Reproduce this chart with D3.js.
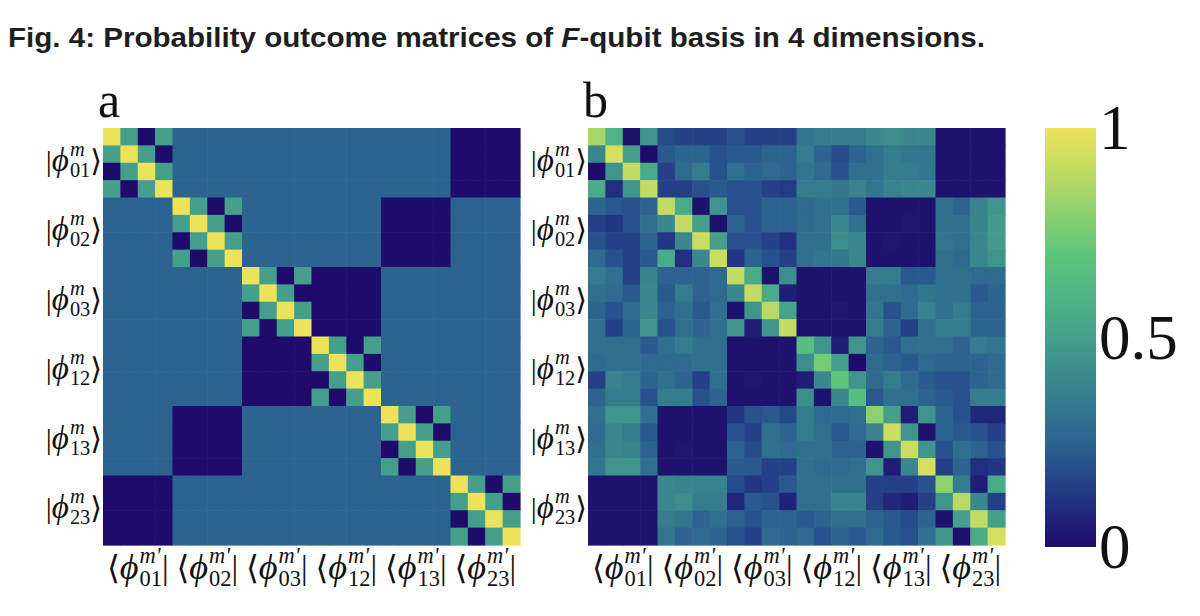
<!DOCTYPE html>
<html>
<head>
<meta charset="utf-8">
<script src="https://cdn.jsdelivr.net/npm/d3@7"></script>
<style>
  body { margin: 0; background: #fff; }
  text { font-family: "Liberation Serif", "DejaVu Serif", serif; fill: #111; }
</style>
</head>
<body>
<div id="fig"></div>
<script>
// basis labels (blocks of 4 rows / columns each)
var basisNames = ["01", "02", "03", "12", "13", "23"];
var panelNames = ["a", "b"];
var colorTicks = [0, 0.5, 1];
// colour stops as they look on the reference colour bar (viridis-like)
var colorStops = [0, 0.1, 0.2, 0.25, 0.3, 0.4, 0.5, 0.6, 0.7, 0.8, 0.9, 1];
var colorValues = ["#1f0b6b", "#212f80", "#27528d", "#2c648f", "#30708f", "#3a888d",
                   "#44a08b", "#4fb585", "#5ec57a", "#8ed16f", "#c2db62", "#ece35a"];

// a: ideal probability outcome matrix
var idealMatrix = [
  [1,.5,0,.5,.25,.25,.25,.25,.25,.25,.25,.25,.25,.25,.25,.25,.25,.25,.25,.25,0,0,0,0],
  [.5,1,.5,0,.25,.25,.25,.25,.25,.25,.25,.25,.25,.25,.25,.25,.25,.25,.25,.25,0,0,0,0],
  [0,.5,1,.5,.25,.25,.25,.25,.25,.25,.25,.25,.25,.25,.25,.25,.25,.25,.25,.25,0,0,0,0],
  [.5,0,.5,1,.25,.25,.25,.25,.25,.25,.25,.25,.25,.25,.25,.25,.25,.25,.25,.25,0,0,0,0],
  [.25,.25,.25,.25,1,.5,0,.5,.25,.25,.25,.25,.25,.25,.25,.25,0,0,0,0,.25,.25,.25,.25],
  [.25,.25,.25,.25,.5,1,.5,0,.25,.25,.25,.25,.25,.25,.25,.25,0,0,0,0,.25,.25,.25,.25],
  [.25,.25,.25,.25,0,.5,1,.5,.25,.25,.25,.25,.25,.25,.25,.25,0,0,0,0,.25,.25,.25,.25],
  [.25,.25,.25,.25,.5,0,.5,1,.25,.25,.25,.25,.25,.25,.25,.25,0,0,0,0,.25,.25,.25,.25],
  [.25,.25,.25,.25,.25,.25,.25,.25,1,.5,0,.5,0,0,0,0,.25,.25,.25,.25,.25,.25,.25,.25],
  [.25,.25,.25,.25,.25,.25,.25,.25,.5,1,.5,0,0,0,0,0,.25,.25,.25,.25,.25,.25,.25,.25],
  [.25,.25,.25,.25,.25,.25,.25,.25,0,.5,1,.5,0,0,0,0,.25,.25,.25,.25,.25,.25,.25,.25],
  [.25,.25,.25,.25,.25,.25,.25,.25,.5,0,.5,1,0,0,0,0,.25,.25,.25,.25,.25,.25,.25,.25],
  [.25,.25,.25,.25,.25,.25,.25,.25,0,0,0,0,1,.5,0,.5,.25,.25,.25,.25,.25,.25,.25,.25],
  [.25,.25,.25,.25,.25,.25,.25,.25,0,0,0,0,.5,1,.5,0,.25,.25,.25,.25,.25,.25,.25,.25],
  [.25,.25,.25,.25,.25,.25,.25,.25,0,0,0,0,0,.5,1,.5,.25,.25,.25,.25,.25,.25,.25,.25],
  [.25,.25,.25,.25,.25,.25,.25,.25,0,0,0,0,.5,0,.5,1,.25,.25,.25,.25,.25,.25,.25,.25],
  [.25,.25,.25,.25,0,0,0,0,.25,.25,.25,.25,.25,.25,.25,.25,1,.5,0,.5,.25,.25,.25,.25],
  [.25,.25,.25,.25,0,0,0,0,.25,.25,.25,.25,.25,.25,.25,.25,.5,1,.5,0,.25,.25,.25,.25],
  [.25,.25,.25,.25,0,0,0,0,.25,.25,.25,.25,.25,.25,.25,.25,0,.5,1,.5,.25,.25,.25,.25],
  [.25,.25,.25,.25,0,0,0,0,.25,.25,.25,.25,.25,.25,.25,.25,.5,0,.5,1,.25,.25,.25,.25],
  [0,0,0,0,.25,.25,.25,.25,.25,.25,.25,.25,.25,.25,.25,.25,.25,.25,.25,.25,1,.5,0,.5],
  [0,0,0,0,.25,.25,.25,.25,.25,.25,.25,.25,.25,.25,.25,.25,.25,.25,.25,.25,.5,1,.5,0],
  [0,0,0,0,.25,.25,.25,.25,.25,.25,.25,.25,.25,.25,.25,.25,.25,.25,.25,.25,0,.5,1,.5],
  [0,0,0,0,.25,.25,.25,.25,.25,.25,.25,.25,.25,.25,.25,.25,.25,.25,.25,.25,.5,0,.5,1]
];

var measuredMatrix = [
  [.85,.6,.02,.45,.18,.15,.15,.15,.2,.15,.15,.15,.33,.35,.36,.35,.4,.42,.4,.4,.02,.02,.02,.02],
  [.4,.95,.5,0,.22,.25,.25,.2,.22,.22,.25,.25,.35,.25,.18,.25,.3,.35,.33,.32,.02,.02,.02,.02],
  [0,.45,.9,.55,.15,.28,.35,.2,.3,.25,.28,.25,.33,.28,.2,.3,.3,.35,.35,.33,.02,.02,.02,.02],
  [.55,.1,.45,.9,.15,.15,.2,.22,.2,.2,.15,.13,.35,.35,.33,.38,.32,.38,.4,.4,.02,.02,.02,.02],
  [.25,.22,.2,.25,.9,.55,.02,.45,.2,.2,.25,.25,.28,.3,.3,.22,.02,.02,.02,.02,.3,.25,.38,.45],
  [.15,.12,.2,.3,.4,.9,.5,.02,.25,.2,.25,.25,.28,.3,.4,.3,.02,.02,.03,.02,.3,.3,.38,.48],
  [.2,.15,.15,.25,.12,.4,.92,.5,.2,.2,.15,.1,.3,.3,.42,.4,.02,.03,.02,.02,.32,.3,.4,.48],
  [.28,.2,.15,.22,.55,.1,.4,.92,.12,.25,.2,.15,.3,.32,.33,.4,.02,.02,.02,.02,.3,.28,.4,.45],
  [.35,.3,.15,.38,.25,.25,.25,.28,.9,.55,.02,.42,.02,.02,.02,.02,.35,.35,.22,.22,.3,.3,.28,.28],
  [.3,.28,.22,.4,.22,.35,.25,.28,.4,.9,.55,.05,.02,.02,.02,.02,.3,.3,.28,.32,.3,.3,.22,.25],
  [.25,.2,.28,.4,.25,.3,.22,.3,.02,.45,.88,.52,.02,.02,.03,.02,.32,.2,.28,.38,.3,.35,.25,.25],
  [.3,.15,.25,.45,.2,.3,.25,.3,.45,.05,.45,.9,.02,.02,.02,.02,.35,.25,.15,.3,.35,.35,.25,.25],
  [.3,.3,.3,.22,.3,.35,.3,.3,.02,.02,.02,.02,.65,.45,.05,.45,.25,.22,.3,.3,.3,.25,.35,.32],
  [.28,.3,.3,.28,.28,.28,.3,.3,.02,.02,.02,.02,.42,.75,.5,0,.28,.25,.22,.28,.25,.25,.25,.28],
  [.15,.38,.35,.25,.3,.25,.15,.3,.02,.03,.02,.02,.05,.4,.7,.45,.28,.35,.28,.22,.2,.2,.25,.28],
  [.25,.35,.35,.2,.35,.35,.2,.25,.02,.02,.02,.02,.42,.02,.4,.65,.22,.3,.3,.25,.22,.2,.35,.35],
  [.3,.45,.45,.3,.02,.02,.02,.02,.12,.2,.22,.17,.35,.28,.28,.3,.8,.5,.05,.45,.25,.2,.08,.08],
  [.28,.4,.35,.22,.02,.02,.02,.02,.2,.15,.3,.25,.35,.3,.22,.28,.38,.92,.45,.02,.25,.22,.2,.15],
  [.3,.4,.38,.25,.02,.03,.02,.02,.25,.18,.3,.28,.3,.3,.25,.25,.02,.45,.92,.45,.2,.3,.25,.2],
  [.32,.45,.45,.3,.02,.02,.02,.02,.22,.22,.15,.15,.3,.28,.28,.3,.45,.05,.4,.95,.15,.25,.1,.12],
  [.02,.02,.02,.02,.4,.38,.38,.38,.18,.12,.15,.22,.3,.3,.3,.3,.15,.15,.15,.2,.8,.35,.05,.55],
  [.02,.02,.02,.02,.4,.42,.35,.35,.08,.22,.2,.06,.3,.3,.38,.38,.15,.08,.05,.15,.45,.88,.4,.15],
  [.02,.02,.02,.02,.35,.32,.25,.3,.25,.2,.25,.25,.22,.25,.3,.3,.25,.22,.18,.25,.02,.5,.9,.5],
  [.02,.02,.02,.02,.32,.25,.28,.25,.2,.15,.28,.25,.28,.2,.25,.22,.28,.22,.2,.3,.45,.02,.55,.95]
];

var width = 1200, height = 616;
var top0 = 128, size = 417;
var panelLeft = [103, 588];

var svg = d3.select("#fig").append("svg")
  .attr("width", width)
  .attr("height", height);

var color = d3.scaleLinear().domain(colorStops).range(colorValues).clamp(true);

// title
var title = svg.append("text")
  .attr("x", 8)
  .attr("y", 47)
  .attr("textLength", 977)
  .attr("lengthAdjust", "spacingAndGlyphs")
  .style("font-family", "'Liberation Sans', Arial, sans-serif")
  .style("font-weight", "bold")
  .style("font-size", "28px")
  .style("fill", "#1e1e1e");
title.append("tspan").text("Fig. 4: Probability outcome matrices of ");
title.append("tspan").style("font-style", "italic").text("F");
title.append("tspan").text("-qubit basis in 4 dimensions.");

// bra / ket label in one text element, scripts stacked with absolute tspans
function mathLabel(parent, open, sup, sub, close, fs) {
  var g = parent.append("g");
  var t = g.append("text").attr("x", 0).attr("y", 0).style("font-size", fs + "px");
  var sf = fs * 0.68;
  var p1 = t.append("tspan").text(open);
  var w = p1.node().getComputedTextLength();
  var p2 = t.append("tspan").style("font-style", "italic").style("font-size", (fs * 1.1) + "px").text("\u03D5");
  w += p2.node().getComputedTextLength() + 1;
  var s1 = t.append("tspan").attr("x", w).attr("y", -fs * 0.5)
    .style("font-size", sf + "px").style("font-style", "italic").text(sup);
  var s2 = t.append("tspan").attr("x", w).attr("y", fs * 0.2)
    .style("font-size", sf + "px").text(sub);
  w += Math.max(s1.node().getComputedTextLength(), s2.node().getComputedTextLength());
  var p3 = t.append("tspan").attr("x", w).attr("y", 0).text(close);
  w += p3.node().getComputedTextLength();
  return {g: g, w: w};
}

function drawMatrix(matrix, x0, letter) {
  var x = d3.scaleBand().domain(d3.range(24)).range([x0, x0 + size]);
  var y = d3.scaleBand().domain(d3.range(24)).range([top0, top0 + size]);
  var bx = d3.scaleBand().domain(basisNames).range([x0, x0 + size]);
  var by = d3.scaleBand().domain(basisNames).range([top0, top0 + size]);

  var cells = [];
  matrix.forEach(function (row, i) {
    row.forEach(function (v, j) { cells.push({i: i, j: j, v: v}); });
  });

  svg.append("g")
    .selectAll("rect")
    .data(cells)
    .enter()
    .append("rect")
      .attr("x", function (d) { return x(d.j); })
      .attr("y", function (d) { return y(d.i); })
      .attr("width", x.bandwidth() + 0.6)
      .attr("height", y.bandwidth() + 0.6)
      .attr("fill", function (d) { return color(d.v); });

  // panel letter
  svg.append("text")
    .attr("x", x0 - 5)
    .attr("y", 117)
    .style("font-size", "50px")
    .text(letter);

  // row labels |phi^m_ij>
  basisNames.forEach(function (b) {
    var lab = mathLabel(svg, "|", "m", b, "\u27E9", 30);
    lab.g.attr("transform", "translate(" + (x0 - 1 - lab.w) + "," + (by(b) + by.bandwidth() / 2 + 8) + ")");
  });

  // column labels <phi^m'_ij|
  basisNames.forEach(function (b) {
    var lab = mathLabel(svg, "\u27E8", "m'", b, "|", 33);
    lab.g.attr("transform", "translate(" + (bx(b) + bx.bandwidth() / 2 - lab.w / 2) + "," + 579 + ")");
  });
}

drawMatrix(idealMatrix, panelLeft[0], panelNames[0]);
drawMatrix(measuredMatrix, panelLeft[1], panelNames[1]);

// colorbar
var defs = svg.append("defs");
var grad = defs.append("linearGradient")
  .attr("id", "cbar")
  .attr("x1", "0%").attr("y1", "100%")
  .attr("x2", "0%").attr("y2", "0%");
grad.selectAll("stop")
  .data(colorStops)
  .enter()
  .append("stop")
    .attr("offset", function (d) { return (d * 100) + "%"; })
    .attr("stop-color", function (d) { return color(d); });

var cbY = d3.scaleLinear().domain([0, 1]).range([547, 128]);
svg.append("rect")
  .attr("x", 1045)
  .attr("y", cbY(1))
  .attr("width", 51)
  .attr("height", cbY(0) - cbY(1))
  .attr("fill", "url(#cbar)");

var cbAxis = svg.append("g")
  .attr("transform", "translate(1096,0)")
  .call(d3.axisRight(cbY).tickValues(colorTicks).tickSize(0).tickPadding(3).tickFormat(d3.format("")));
cbAxis.select(".domain").remove();
cbAxis.selectAll("text")
  .style("font-family", "'Liberation Serif', serif")
  .style("font-size", "63px")
  .style("fill", "#111")
  .attr("dy", "0.33em");
</script>
</body>
</html>
